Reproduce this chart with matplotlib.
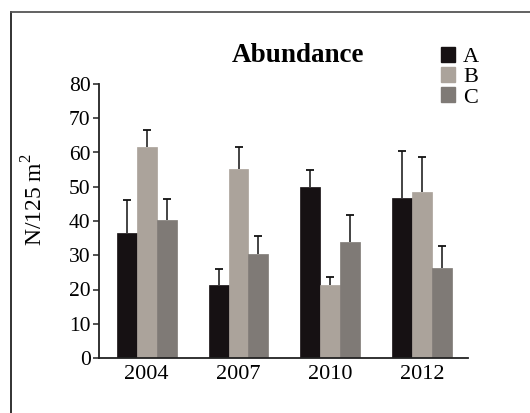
import matplotlib
matplotlib.use("Agg")
import matplotlib.pyplot as plt
import numpy as np
from matplotlib.lines import Line2D
from matplotlib.patches import Patch

years = ["2004", "2007", "2010", "2012"]
series = ["A", "B", "C"]
a_vals = [36.4, 21.2, 50.0, 46.8]
b_vals = [61.7, 55.1, 21.2, 48.6]
c_vals = [40.3, 30.5, 33.8, 26.3]
a_err = [9.6, 4.7, 5.0, 13.6]
b_err = [4.9, 6.5, 2.5, 10.1]
c_err = [6.1, 5.0, 7.9, 6.4]

colors = ["#161113", "#aba39b", "#7f7a76"]

plt.rcParams["font.family"] = ["Liberation Serif", "DejaVu Serif"]
plt.rcParams["mathtext.fontset"] = "custom"
plt.rcParams["mathtext.rm"] = "Liberation Serif"

W, H = 530, 413
fig = plt.figure(figsize=(W / 100, H / 100), dpi=100)
ax = fig.add_axes([99 / W, 1 - 358 / H, (468 - 99) / W, (358 - 84) / H])

x = np.arange(len(years))
w = 0.217
for i, (vals, errs) in enumerate([(a_vals, a_err), (b_vals, b_err), (c_vals, c_err)]):
    pos = x + (i - 1) * w
    vals = np.array(vals)
    tops = vals + np.array(errs)
    ax.bar(pos, vals, width=w, color=colors[i], edgecolor=colors[i], linewidth=0.5, zorder=2)
    # one-sided (upward) error bars
    ax.vlines(pos, vals, tops, color="#111111", lw=1.1, zorder=1)
    ax.plot(pos, tops, ls="none", marker="_", ms=6, mew=1.3, color="#111111", zorder=1)

ax.set_xlim(-0.52, 3.5)
ax.set_ylim(0, 80)
ax.set_yticks(range(0, 81, 10))
ax.set_xticks(x)
ax.set_xticklabels(years, fontsize=16)
ax.tick_params(axis="y", labelsize=15.5, length=4, width=1.1, pad=2, color="#222222")
ax.tick_params(axis="x", length=0, pad=5)
for s in ["top", "right"]:
    ax.spines[s].set_visible(False)
for s in ["left", "bottom"]:
    ax.spines[s].set_linewidth(1.3)
    ax.spines[s].set_color("#222222")

fig.text(298 / W, 1 - 55 / H, "Abundance", ha="center", va="center",
         fontsize=19.5, fontweight="bold")
fig.text(35 / W, 1 - 200 / H, "N/125 m$^{2}$", rotation=90, ha="center", va="center",
         fontsize=17)

handles = [Patch(facecolor=c, edgecolor=c) for c in colors]
fig.legend(handles, series, loc="upper left", bbox_to_anchor=(441 / W, 1 - 47 / H),
           frameon=False, fontsize=16, handlelength=0.65, handleheight=0.65,
           handletextpad=0.35, labelspacing=0.0, borderpad=0, borderaxespad=0)

# partial frame around the figure (top and left edges)
fig.add_artist(Line2D([11 / W, 11 / W], [0, 1 - 12 / H], color="#222222", lw=1.3))
fig.add_artist(Line2D([11 / W, 1], [1 - 12 / H, 1 - 12 / H], color="#555555", lw=1.3))

fig.savefig("out.png", dpi=100)
